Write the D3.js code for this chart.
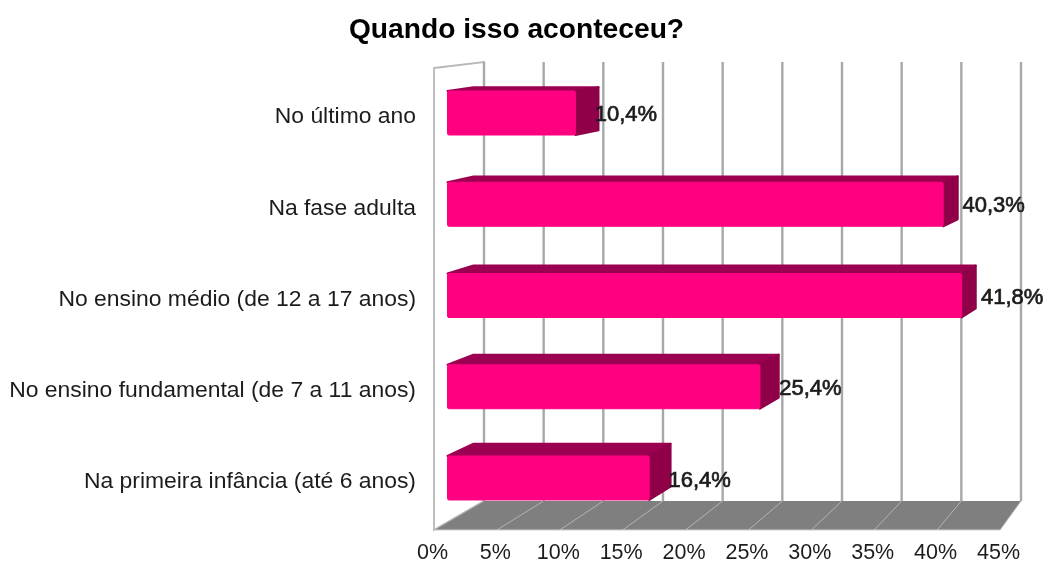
<!DOCTYPE html>
<html>
<head>
<meta charset="utf-8">
<script src="https://cdn.jsdelivr.net/npm/d3@7"></script>
<style>
	html, body { margin: 0; background: #fff; }
	svg { display: block; filter: blur(0.45px); }
	text { font-family: "Liberation Sans", Arial, sans-serif; fill: #1c1c1c; }
</style>
</head>
<body>
<svg id="chart" width="1046" height="571"></svg>
<script>
var categories = [
	"No último ano",
	"Na fase adulta",
	"No ensino médio (de 12 a 17 anos)",
	"No ensino fundamental (de 7 a 11 anos)",
	"Na primeira infância (até 6 anos)"
];
var values = [10.4, 40.3, 41.8, 25.4, 16.4];
var ticks = [0, 5, 10, 15, 20, 25, 30, 35, 40, 45];

var svg = d3.select("#chart");

// front edge of the floor, back wall, and the plane the bars stand on
var xFront = d3.scaleLinear().domain([0, 45]).range([434, 1000]);
var xBack = d3.scaleLinear().domain([0, 45]).range([484, 1021]);
var xBar = d3.scaleLinear().domain([0, 45]).range([447.5, 1001]);
var yBar = d3.scaleBand().domain(categories).range([67.4, 523.6])
	.paddingInner(0.518).paddingOuter(0.259);

var wallTopFront = 68, wallTopBack = 62, floorBack = 501, floorFront = 530;

//bar depth goes towards a vanishing point up and to the right
var vanishX = 1570, vanishY = -71, depth = 0.0232;
function back(x, y) {
	return [x + (vanishX - x) * depth, y + (vanishY - y) * depth];
}

function pts(list) {
	return list.map(function(p) { return p.join(","); }).join(" ");
}

// left wall
svg.append("polygon")
	.attr("points", pts([[xFront(0), wallTopFront], [xBack(0), wallTopBack], [xBack(0), floorBack], [xFront(0), floorFront]]))
	.attr("fill", "#fff")
	.attr("stroke", "#b8b8b8")
	.attr("stroke-width", 1.8);

// back wall grid lines
svg.append("g").selectAll("line").data(ticks).join("line")
	.attr("x1", function(d) { return xBack(d); })
	.attr("x2", function(d) { return xBack(d); })
	.attr("y1", wallTopBack)
	.attr("y2", floorBack)
	.attr("stroke", "#a8a8a8")
	.attr("stroke-width", 2.4);

// floor
svg.append("polygon")
	.attr("points", pts([[xFront(0), floorFront], [xBack(0), floorBack], [xBack(45), floorBack], [xFront(45), floorFront]]))
	.attr("fill", "#7f7f7f");

svg.append("g").selectAll("line").data(ticks).join("line")
	.attr("x1", function(d) { return xFront(d); })
	.attr("x2", function(d) { return xBack(d); })
	.attr("y1", floorFront)
	.attr("y2", floorBack)
	.attr("stroke", "#b4b4b4")
	.attr("stroke-width", 1);

svg.append("line")
	.attr("x1", xFront(0)).attr("x2", xFront(45))
	.attr("y1", floorFront).attr("y2", floorFront)
	.attr("stroke", "#cfcfcf")
	.attr("stroke-width", 1);

// bars
var bars = svg.append("g").selectAll("g").data(values).join("g")
	.attr("stroke-linejoin", "round")
	.attr("stroke-width", 2);

bars.append("polygon")
	.attr("class", "top")
	.attr("fill", "#9c0050")
	.attr("stroke", "#9c0050")
	.attr("points", function(d, i) {
		var y = yBar(categories[i]);
		return pts([[xBar(0), y], back(xBar(0), y), back(xBar(d), y), [xBar(d), y]]);
	});

bars.append("polygon")
	.attr("class", "side")
	.attr("fill", "#8f0049")
	.attr("stroke", "#8f0049")
	.attr("points", function(d, i) {
		var y = yBar(categories[i]), y2 = y + yBar.bandwidth();
		return pts([[xBar(d), y], back(xBar(d), y), back(xBar(d), y2), [xBar(d), y2]]);
	});

bars.append("rect")
	.attr("class", "front")
	.attr("fill", "#ff0080")
	.attr("stroke", "#ff0080")
	.attr("stroke-width", 1)
	.attr("rx", 1.5)
	.attr("x", xBar(0))
	.attr("y", function(d, i) { return yBar(categories[i]); })
	.attr("width", function(d) { return xBar(d) - xBar(0); })
	.attr("height", yBar.bandwidth());

// value labels
svg.append("g").selectAll("text").data(values).join("text")
	.attr("x", function(d) { return xBar(d) + 50.5; })
	.attr("y", function(d, i) { return yBar(categories[i]) + yBar.bandwidth() / 2 + 7.5 + i * 0.4; })
	.attr("text-anchor", "middle")
	.attr("font-size", 22)
	.attr("stroke", "#1c1c1c")
	.attr("stroke-width", 0.7)
	.text(function(d) { return d.toFixed(1).replace(".", ",") + "%"; });

// axes
var axisLeft = svg.append("g")
	.attr("transform", "translate(416,3)")
	.call(d3.axisLeft(yBar).tickSize(0).tickPadding(0));
axisLeft.select(".domain").remove();
axisLeft.selectAll("text").attr("font-size", 22.9).style("font-family", null);

var axisBottom = svg.append("g")
	.attr("transform", "translate(-2,544)")
	.call(d3.axisBottom(xFront).tickValues(ticks).tickSize(0).tickPadding(0)
		.tickFormat(function(d) { return d + "%"; }));
axisBottom.select(".domain").remove();
axisBottom.selectAll("text").attr("font-size", 21.5).style("font-family", null);

// title
svg.append("text")
	.attr("x", 516.5)
	.attr("y", 38)
	.attr("text-anchor", "middle")
	.attr("font-size", 28.2)
	.attr("font-weight", "bold")
	.style("fill", "#000")
	.text("Quando isso aconteceu?");
</script>
</body>
</html>
